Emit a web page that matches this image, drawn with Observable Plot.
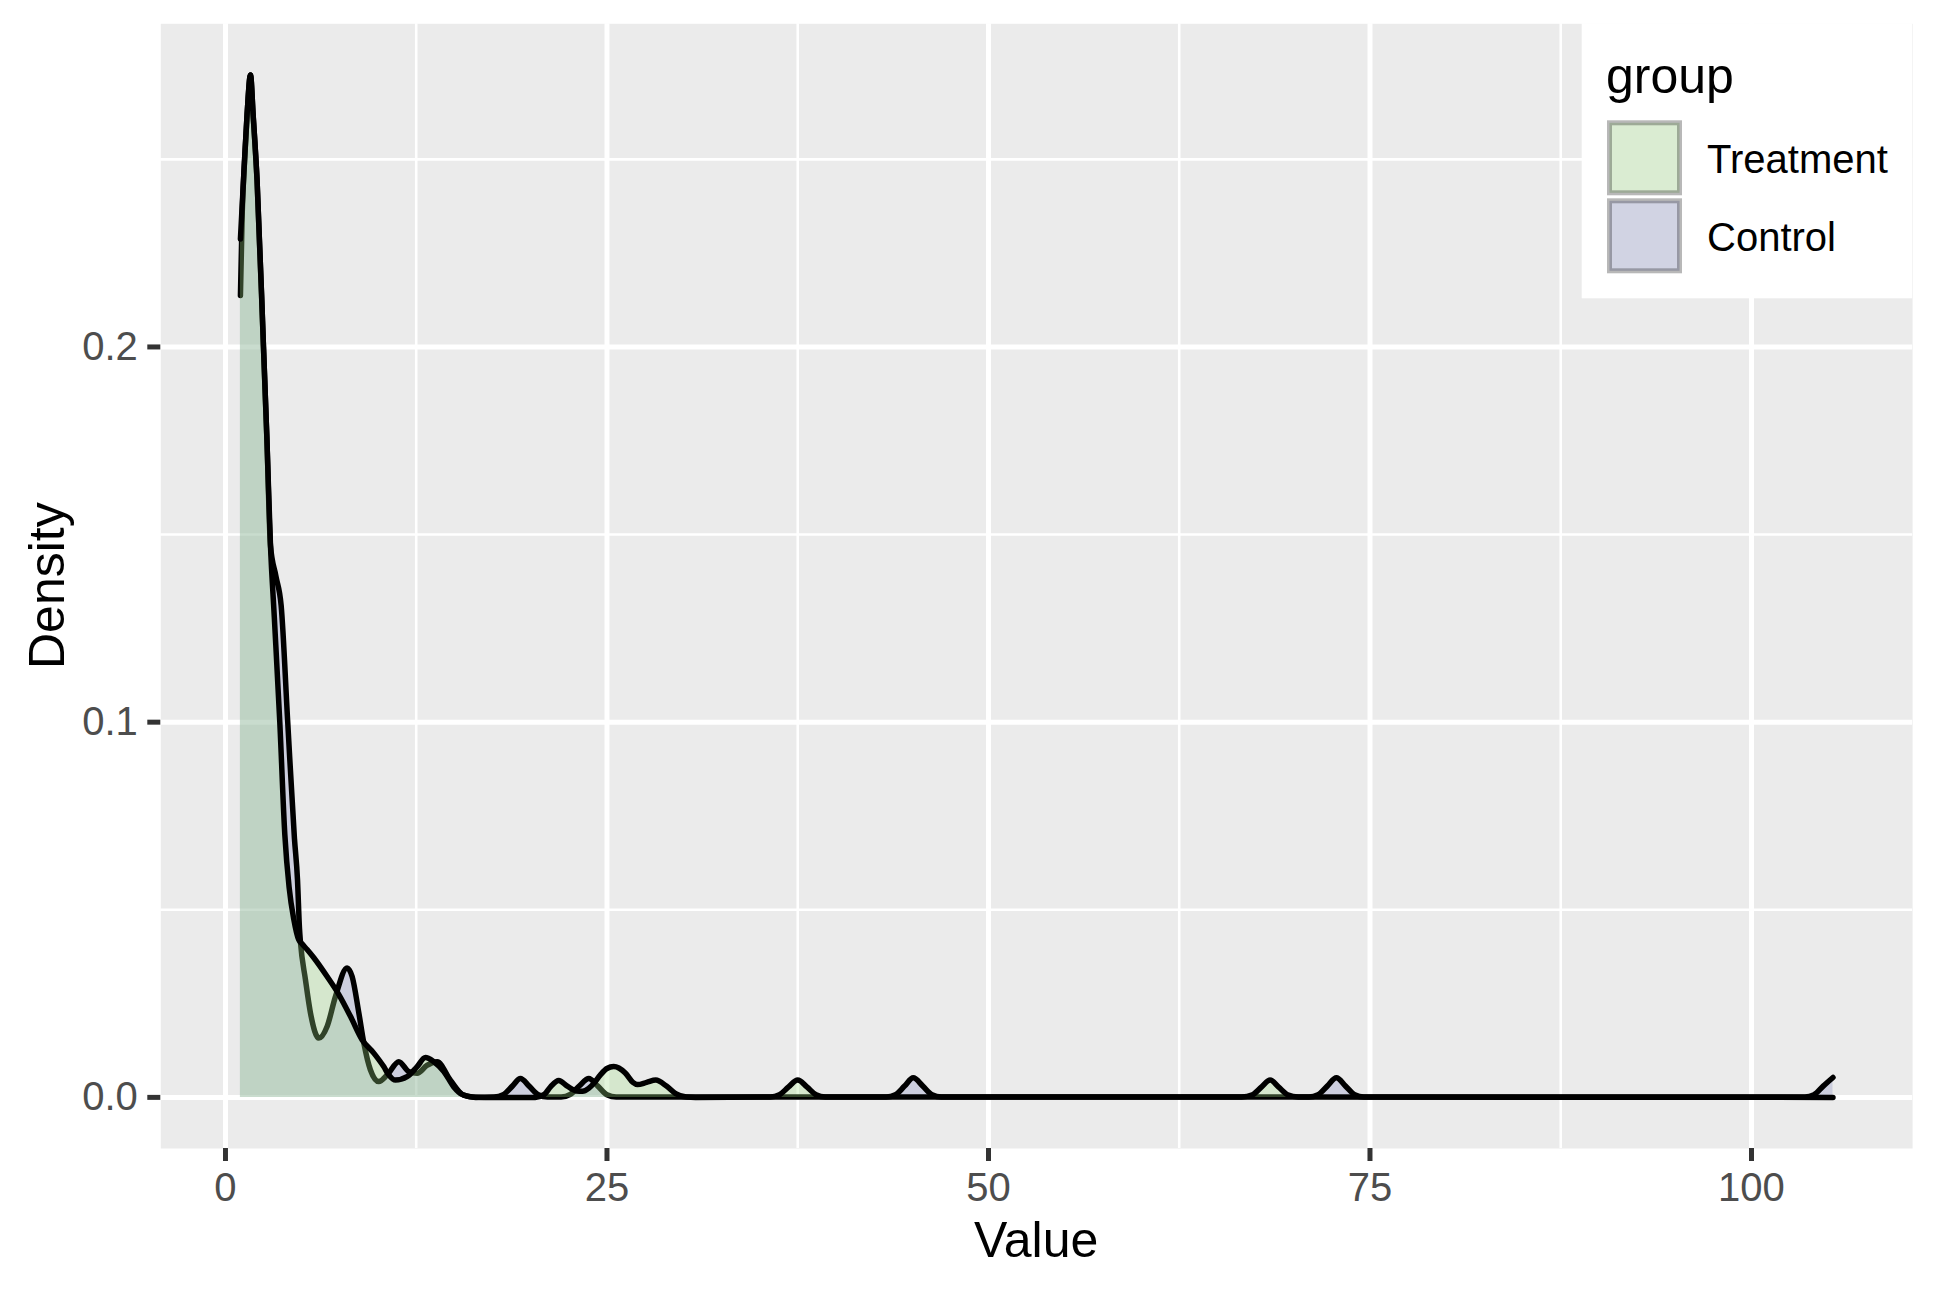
<!DOCTYPE html>
<html>
<head>
<meta charset="utf-8">
<script src="https://cdn.jsdelivr.net/npm/d3@7"></script>
<script src="https://cdn.jsdelivr.net/npm/@observablehq/plot@0.6"></script>
<style>
  html, body { margin: 0; padding: 0; background: #ffffff; }
  #chart svg { display: block; }
</style>
</head>
<body>
<div id="chart"></div>
<script>
// ---- data ----
const groups = ["Treatment", "Control"];

const treatmentX = [0.98, 1.25, 1.42, 1.64, 1.81, 2.07, 2.49, 2.71, 2.95, 3.2, 3.56, 3.89, 4.17, 4.48, 4.8, 5.0, 5.35, 5.79, 6.66, 7.43, 8.19, 8.96, 9.72, 10.37, 10.7, 11.14, 11.9, 12.56, 13.1, 13.65, 14.31, 14.96, 15.5, 16.2, 17.0, 20.3, 20.9, 21.3, 21.84, 22.4, 23.0, 23.4, 23.8, 24.13, 24.57, 25.0, 25.44, 26.2, 26.7, 27.0, 27.6, 28.2, 28.9, 29.5, 30.2, 30.8, 35.7, 36.3, 36.9, 37.5, 38.1, 38.7, 39.3, 66.6, 67.3, 67.9, 68.46, 69.0, 69.6, 70.3, 105.34];
const treatmentDensity = [0.2288, 0.2497, 0.2622, 0.2725, 0.262, 0.2444, 0.2, 0.176, 0.147, 0.128, 0.100, 0.070, 0.056, 0.0474, 0.042, 0.041, 0.0394, 0.0372, 0.0322, 0.0274, 0.0216, 0.0153, 0.0118, 0.0082, 0.0060, 0.0046, 0.0055, 0.0082, 0.0106, 0.0095, 0.0069, 0.0028, 0.0008, 0.0001, 0, 0, 0.0008, 0.0028, 0.0045, 0.0030, 0.0017, 0.0016, 0.0024, 0.0037, 0.0060, 0.0077, 0.0082, 0.0065, 0.0040, 0.0034, 0.0040, 0.0046, 0.0030, 0.0010, 0.0001, 0, 0.0001, 0.0007, 0.0028, 0.0046, 0.0028, 0.0007, 0.0001, 0.0001, 0.0007, 0.0028, 0.0046, 0.0028, 0.0007, 0.0001, 0];

const controlX = [0.98, 1.1, 1.25, 1.42, 1.64, 1.81, 2.07, 2.49, 2.71, 2.95, 3.3, 3.65, 4.08, 4.52, 4.72, 4.85, 4.91, 5.24, 5.57, 6.12, 6.66, 7.21, 7.97, 8.30, 8.74, 9.07, 9.50, 10.05, 10.6, 11.36, 12.0, 12.56, 13.2, 13.87, 14.74, 15.6, 16.4, 17.6, 18.2, 18.8, 19.33, 19.9, 20.5, 21.1, 22.0, 22.6, 23.2, 23.81, 24.4, 25.0, 25.6, 43.3, 43.9, 44.5, 45.07, 45.7, 46.3, 46.9, 71.0, 71.6, 72.2, 72.8, 73.4, 74.0, 74.6, 103.5, 104.1, 104.7, 105.34];
const controlDensity = [0.2137, 0.236, 0.2497, 0.2622, 0.2725, 0.262, 0.2444, 0.2, 0.176, 0.147, 0.139, 0.131, 0.100, 0.069, 0.058, 0.045, 0.0416, 0.0314, 0.0225, 0.0158, 0.0189, 0.0269, 0.0345, 0.0322, 0.0225, 0.0144, 0.0073, 0.0042, 0.0060, 0.0095, 0.0069, 0.0064, 0.0085, 0.0095, 0.0046, 0.0006, 0, 0.0001, 0.0007, 0.0030, 0.0050, 0.0030, 0.0007, 0.0001, 0.0001, 0.0008, 0.0031, 0.0050, 0.0030, 0.0007, 0.0001, 0.0001, 0.0007, 0.0030, 0.0052, 0.0030, 0.0007, 0.0001, 0.0001, 0.0007, 0.0030, 0.0052, 0.0030, 0.0007, 0.0001, 0.0001, 0.0007, 0.0030, 0.0053];

const xMajorTicks = [0, 25, 50, 75, 100];
const xMinorTicks = [12.5, 37.5, 62.5, 87.5];
const yMajorTicks = [0, 0.1, 0.2];
const yMinorTicks = [0.05, 0.15, 0.25];

const xLabel = "Value";
const yLabel = "Density";
const legendTitle = "group";

// ---- styling ----
const fills = {Treatment: "#a2de87", Control: "#848ac0"};
const fillAlpha = 0.3;
const W = 1937, H = 1292;
const mL = 160.3, mR = 24.9, mT = 23.3, mB = 144;

const toPoints = (xs, ys) => xs.map((x, i) => ({x, d: ys[i]}));
const treatment = toPoints(treatmentX, treatmentDensity);
const control = toPoints(controlX, controlDensity);

const xMin = d3.min([...treatmentX, ...controlX]);
const xMax = d3.max([...treatmentX, ...controlX]);
const yMax = d3.max([...treatmentDensity, ...controlDensity]);
const xPad = (xMax - xMin) * 0.05;
const yPad = yMax * 0.05;

const plot = Plot.plot({
  width: W,
  height: H,
  marginLeft: mL,
  marginRight: mR,
  marginTop: mT,
  marginBottom: mB,
  style: {fontFamily: "'Liberation Sans', Arial, Helvetica, sans-serif", background: "#ffffff", overflow: "visible"},
  x: {domain: [xMin - xPad, xMax + xPad], label: null},
  y: {domain: [-yPad, yMax + yPad], label: null},
  marks: [
    Plot.frame({fill: "#ebebeb"}),
    Plot.ruleX(xMinorTicks, {stroke: "#ffffff", strokeWidth: 2.6}),
    Plot.ruleY(yMinorTicks, {stroke: "#ffffff", strokeWidth: 2.6}),
    Plot.ruleX(xMajorTicks, {stroke: "#ffffff", strokeWidth: 5}),
    Plot.ruleY(yMajorTicks, {stroke: "#ffffff", strokeWidth: 5}),
    Plot.areaY(control, {x: "x", y: "d", fill: fills.Control, fillOpacity: fillAlpha, curve: "monotone-x"}),
    Plot.lineY(control, {x: "x", y: "d", stroke: "#000000", strokeWidth: 5.5, curve: "monotone-x", strokeLinejoin: "round"}),
    Plot.areaY(treatment, {x: "x", y: "d", fill: fills.Treatment, fillOpacity: fillAlpha, curve: "monotone-x"}),
    Plot.lineY(treatment, {x: "x", y: "d", stroke: "#000000", strokeWidth: 5.5, curve: "monotone-x", strokeLinejoin: "round"}),
    Plot.axisX(xMajorTicks, {anchor: "bottom", tickSize: 13, tickPadding: 11.5, fontSize: 40, stroke: "#333333", fill: "#4d4d4d", strokeWidth: 5, label: null}),
    Plot.axisY(yMajorTicks, {anchor: "left", tickSize: 13, tickPadding: 10, fontSize: 40, stroke: "#333333", fill: "#4d4d4d", strokeWidth: 5, tickFormat: d3.format(".1f"), label: null})
  ]
});

document.getElementById("chart").appendChild(plot);

// ---- axis titles and legend (ggplot-style, inside top-right of panel) ----
const svg = d3.select(plot);
const font = "'Liberation Sans', Arial, Helvetica, sans-serif";
const panelRight = W - mR;

svg.append("text")
  .attr("x", (mL + panelRight) / 2).attr("y", 1257)
  .attr("text-anchor", "middle").attr("font-size", 50).attr("font-family", font).attr("fill", "#000")
  .text(xLabel);

svg.append("text")
  .attr("transform", `translate(64, ${(mT + (H - mB)) / 2}) rotate(-90)`)
  .attr("text-anchor", "middle").attr("font-size", 50).attr("font-family", font).attr("fill", "#000")
  .text(yLabel);

const lg = svg.append("g").attr("text-anchor", "start");
lg.append("rect").attr("x", 1581.7).attr("y", mT).attr("width", panelRight - 1581.7).attr("height", 298.3 - mT).attr("fill", "#ffffff");
lg.append("text").attr("x", 1606).attr("y", 93).attr("text-anchor", "start").attr("font-size", 50).attr("font-family", font).attr("fill", "#000").text(legendTitle);

groups.forEach((g, i) => {
  const ky = 122.8 + i * 78;
  lg.append("rect").attr("x", 1609.5).attr("y", ky).attr("width", 70).attr("height", 70).attr("fill", "#f2f2f2");
  lg.append("rect").attr("x", 1609.5).attr("y", ky).attr("width", 70).attr("height", 70)
    .attr("fill", fills[g]).attr("fill-opacity", fillAlpha)
    .attr("stroke", "#000").attr("stroke-opacity", 0.28).attr("stroke-width", 5);
  lg.append("text").attr("x", 1707).attr("y", ky + 50.5).attr("text-anchor", "start").attr("font-size", 40).attr("font-family", font).attr("fill", "#000").text(g);
});
</script>
</body>
</html>
